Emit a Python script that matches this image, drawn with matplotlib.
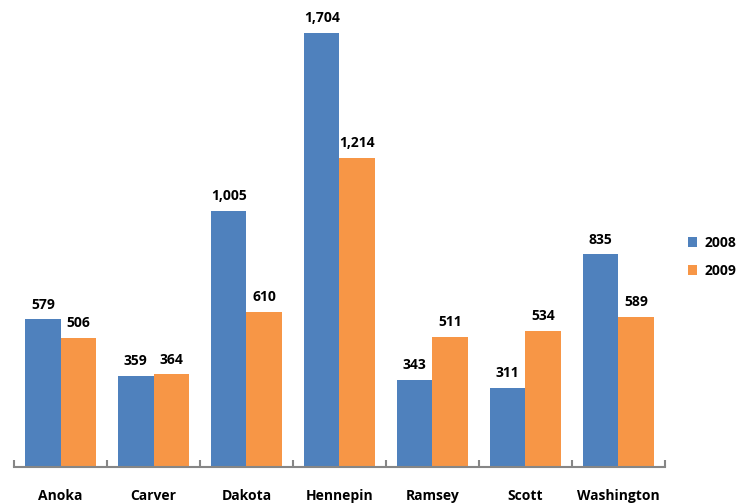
import numpy as np
import matplotlib
matplotlib.use("Agg")
import matplotlib.pyplot as plt

counties = ["Anoka", "Carver", "Dakota", "Hennepin", "Ramsey", "Scott", "Washington"]
y2008 = [579, 359, 1005, 1704, 343, 311, 835]
y2009 = [506, 364, 610, 1214, 511, 534, 589]

plt.rcParams["font.family"] = ["Open Sans", "DejaVu Sans"]

fig = plt.figure(figsize=(7.38, 5.04), dpi=100)
ax = fig.add_axes([0.019, 0.0734, 0.882, 0.9266])

x = np.arange(len(counties))
w = 0.38
b1 = ax.bar(x - w / 2, y2008, w, color="#4F81BD", label="2008")
b2 = ax.bar(x + w / 2, y2009, w, color="#F79646", label="2009")

for bars, vals in ((b1, y2008), (b2, y2009)):
    for r, v in zip(bars, vals):
        ax.text(r.get_x() + r.get_width() / 2, v + 30, f"{v:,}",
                ha="center", va="bottom", fontsize=10, fontweight="bold")

ax.set_xlim(-0.5, len(counties) - 0.5)
ax.set_ylim(0, 1833)
ax.set_yticks([])
ax.set_xticks(x)
ax.set_xticklabels(counties, fontsize=10, fontweight="bold")
ax.tick_params(axis="x", which="major", length=0, pad=16)
ax.set_xticks(np.arange(len(counties) + 1) - 0.5, minor=True)
ax.tick_params(axis="x", which="minor", direction="in", length=5, color="#868686", width=1.5)

for s in ("top", "right", "left"):
    ax.spines[s].set_visible(False)
ax.spines["bottom"].set_color("#868686")
ax.spines["bottom"].set_linewidth(1.5)

fig.legend(loc="center left", bbox_to_anchor=(0.915, 0.49), frameon=False,
           prop={"size": 10, "weight": "bold"}, handlelength=0.7, handleheight=0.7,
           handletextpad=0.5, labelspacing=1.0)

fig.savefig("out.png", dpi=100)
